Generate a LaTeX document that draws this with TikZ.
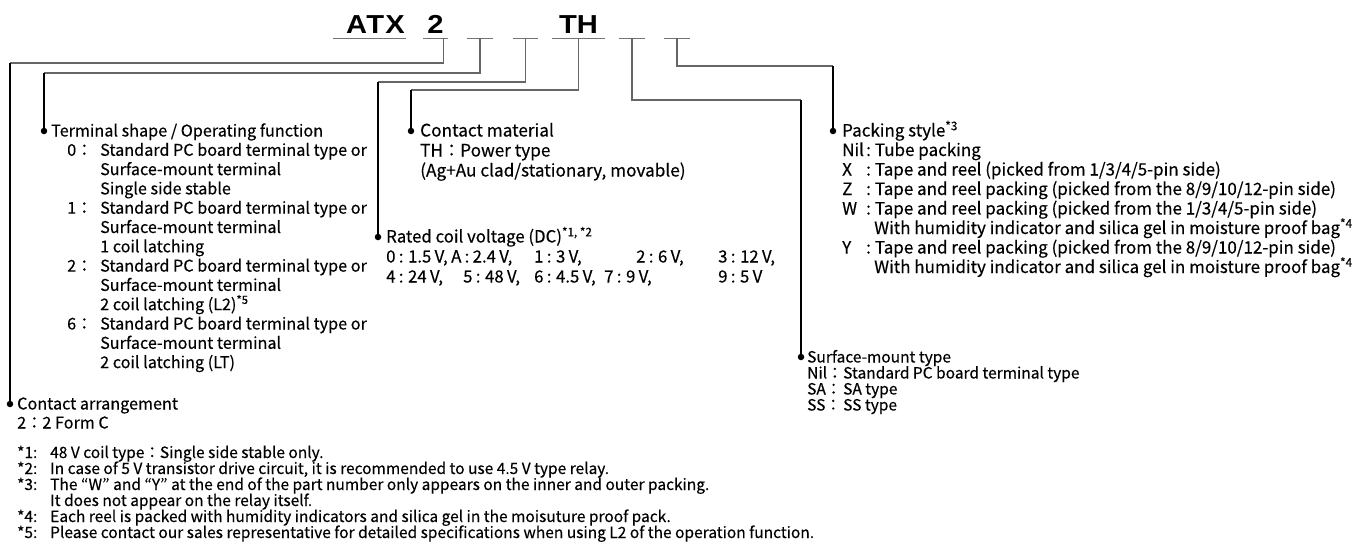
\documentclass[tikz,border=0pt]{standalone}
\usepackage{fontspec}
\usepackage{array}
\setmainfont{Noto Sans CJK JP}[FakeBold=0.3]
\newfontfamily\partfont{Liberation Sans}[FakeStretch=1.12]
\usetikzlibrary{positioning}
% one left column whose rows keep the leading, whatever the glyphs
\newcolumntype{L}{>{\setbox0=\hbox\bgroup}l<{\egroup\ht0=0pt\dp0=0pt\box0}}
\newcommand\lbl[2]{\makebox[#1pt][l]{#2}}
\newcommand\tight{\spaceskip=3.3pt\relax}

\begin{document}
\begin{tikzpicture}[x=1pt, y=-1pt,
    % part number slots
    slot/.style={minimum width=26pt, minimum height=0pt, inner sep=0pt},
    partno/.style={font=\partfont\bfseries\fontsize{26}{26}\selectfont,
        anchor=base, inner sep=0pt},
    uline/.style={draw=black!55, line width=1.3pt},
    % leader lines
    upper/.style={draw=black!60, line width=1.1pt},
    lower/.style={draw=black, line width=1.1pt},
    dot/.style={circle, fill, inner sep=0pt, minimum size=6.5pt},
    % text blocks: size/leading
    blk/.style args={#1/#2}{anchor=base west, inner sep=0pt,
        font=\fontsize{#1}{#2}\selectfont},
  ]
  \useasboundingbox (0,0) rectangle (1356,557);

  % --- part number ---
  \node[slot, minimum width=73pt] (atx) at (369.5,38) {};
  \node[slot, minimum width=25pt] (two) at (435.5,38) {};
  \node[slot] (b1) at (480,38) {};
  \node[slot, minimum width=25pt] (b2) at (525.5,38) {};
  \node[slot, minimum width=53pt] (th) at (578.5,38) {};
  \node[slot] (b3) at (632,38) {};
  \node[slot] (b4) at (677,38) {};
  \foreach \s in {atx,two,b1,b2,th,b3,b4}
    \draw[uline] (\s.south west) -- (\s.south east);
  \node[partno] (atxtxt) at ([xshift=6pt, yshift=5pt]atx.south)
    {\addfontfeature{LetterSpace=5}ATX};
  \node[partno] (twotxt) at ([yshift=5pt]two.south) {2};
  \node[partno] (thtxt) at ([yshift=5pt]th.south) {TH};

  % --- dots and corners ---
  \node[dot] (dca) at (10,404) {};
  \node[dot] (dterm) at (44,131) {};
  \node[dot] (drated) at (378,237) {};
  \node[dot] (dmat) at (411,131) {};
  \node[dot] (dsurf) at (801,357) {};
  \node[dot] (dpack) at (833,131) {};
  \coordinate (k1) at (10,63);
  \coordinate (k2) at (44,73);
  \coordinate (k3) at (378,82);
  \coordinate (k4) at (411,90);
  \coordinate (k5) at (801,100);
  \coordinate (k6) at (833,66);

  \draw[upper] ([xshift=-5pt]two.south east) |- (k1);
  \draw[lower] (k1) -- (dca);
  \draw[upper] (b1.south) |- (k2);
  \draw[lower] (k2) -- (dterm);
  \draw[upper] (b2.south) |- (k3);
  \draw[lower] (k3) -- (drated);
  \draw[upper] (th.south) |- (k4);
  \draw[lower] (k4) -- (dmat);
  \draw[upper] (b3.south) |- (k5);
  \draw[lower] (k5) -- (dsurf);
  \draw[upper] (b4.south) |- (k6);
  \draw[lower] (k6) -- (dpack);

  % --- text blocks ---
  \node[blk=16.2/19.3] (term) at ([shift={(7,5.5)}]dterm.center) {%
    \begin{tabular}[t]{@{}L@{}}
      Terminal shape / Operating function\\
      \hspace*{16pt}\lbl{33}{0：}Standard PC board terminal type or\\
      \hspace*{49pt}Surface-mount terminal\\
      \hspace*{49pt}Single side stable\\
      \hspace*{16pt}\lbl{33}{1：}Standard PC board terminal type or\\
      \hspace*{49pt}Surface-mount terminal\\
      \hspace*{49pt}1 coil latching\\
      \hspace*{16pt}\lbl{33}{2：}Standard PC board terminal type or\\
      \hspace*{49pt}Surface-mount terminal\\
      \hspace*{49pt}2 coil latching (L2)\textsuperscript{*5}\\
      \hspace*{16pt}\lbl{33}{6：}Standard PC board terminal type or\\
      \hspace*{49pt}Surface-mount terminal\\
      \hspace*{49pt}2 coil latching (LT)
    \end{tabular}};

  \node[blk=16.2/19] (arr) at ([shift={(7,5.5)}]dca.center) {%
    \begin{tabular}[t]{@{}L@{}}
      Contact arrangement\\
      2：2 Form C
    \end{tabular}};

  \node[blk=17.2/20] (mat) at ([shift={(9,5.5)}]dmat.center) {%
    \begin{tabular}[t]{@{}L@{}}
      Contact material\\
      TH：Power type\\
      (Ag+Au clad/stationary, movable)
    \end{tabular}};

  \node[blk=16.8/20] (rated) at ([shift={(8,5.5)}]drated.center) {%
    \begin{tabular}[t]{@{}L@{}}
      Rated coil voltage (DC)\textsuperscript{*1, *2}\\
      \tight\lbl{65}{0 : 1.5 V,}\lbl{83}{A : 2.4 V,}\lbl{102}{1 : 3 V,}\lbl{82}{2 : 6 V,}3 : 12 V,\\
      \tight\lbl{77}{4 : 24 V,}\lbl{71}{5 : 48 V,}\lbl{70}{6 : 4.5 V,}\lbl{114}{7 : 9 V,}9 : 5 V
    \end{tabular}};

  \node[blk=17/19.5] (pack) at ([shift={(9,5.5)}]dpack.center) {%
    \begin{tabular}[t]{@{}L@{}}
      Packing style\textsuperscript{*3}\\
      \lbl{24}{Nil}:\hspace{4pt}Tube packing\\
      \lbl{24}{X}:\hspace{4pt}Tape and reel (picked from 1/3/4/5-pin side)\\
      \lbl{24}{Z}:\hspace{4pt}Tape and reel packing (picked from the 8/9/10/12-pin side)\\
      \lbl{24}{W}:\hspace{4pt}Tape and reel packing (picked from the 1/3/4/5-pin side)\\
      \hspace*{32pt}With humidity indicator and silica gel in moisture proof bag\textsuperscript{*4}\\
      \lbl{24}{Y}:\hspace{4pt}Tape and reel packing (picked from the 8/9/10/12-pin side)\\
      \hspace*{32pt}With humidity indicator and silica gel in moisture proof bag\textsuperscript{*4}
    \end{tabular}};

  \node[blk=15.5/16] (surf) at ([shift={(6,5.5)}]dsurf.center) {%
    \begin{tabular}[t]{@{}L@{}}
      Surface-mount type\\
      \lbl{36}{Nil：}Standard PC board terminal type\\
      \lbl{36}{SA：}SA type\\
      \lbl{36}{SS：}SS type
    \end{tabular}};

  % --- notes ---
  \node[blk=15.5/16] (notes) at (17,458) {%
    \begin{tabular}[t]{@{}L@{}}
      \lbl{33}{*1:}48 V coil type：Single side stable only.\\
      \lbl{33}{*2:}In case of 5 V transistor drive circuit, it is recommended to use 4.5 V type relay.\\
      \lbl{33}{*3:}The “W” and “Y” at the end of the part number only appears on the inner and outer packing.\\
      \hspace*{33pt}It does not appear on the relay itself.\\
      \lbl{33}{*4:}Each reel is packed with humidity indicators and silica gel in the moisuture proof pack.\\
      \lbl{33}{*5:}Please contact our sales representative for detailed specifications when using L2 of the operation function.
    \end{tabular}};
\end{tikzpicture}
\end{document}
